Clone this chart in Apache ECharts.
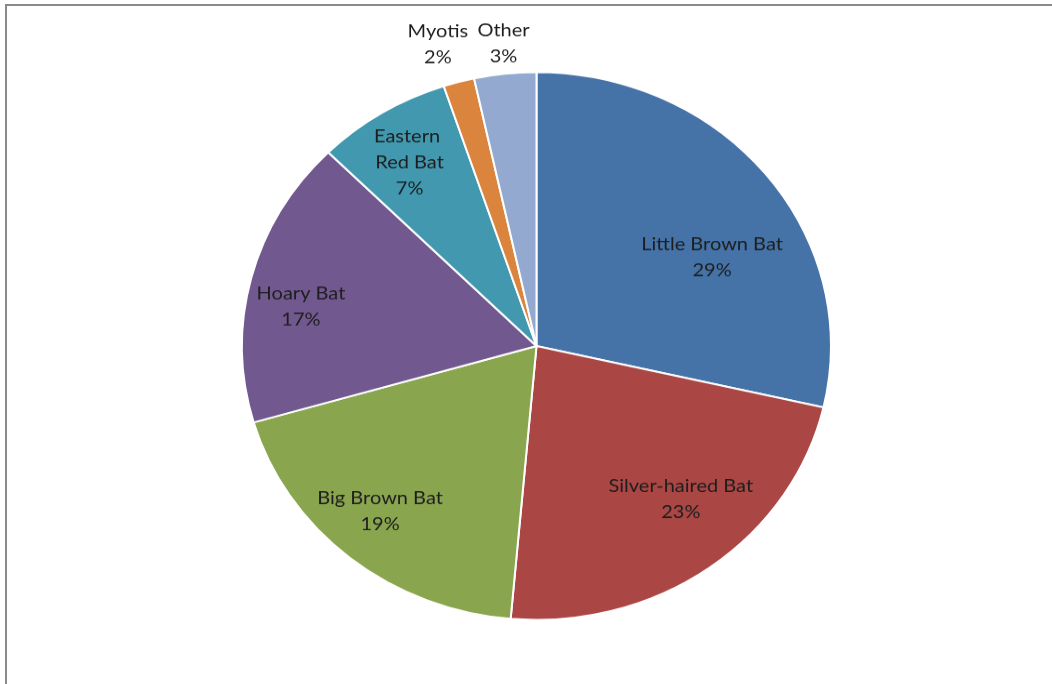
<!DOCTYPE html>
<html><head><meta charset="utf-8">
<script src="https://cdn.jsdelivr.net/npm/echarts@6/dist/echarts.min.js"></script>
<style>
html,body{margin:0;padding:0;background:#fff;width:1052px;height:684px;overflow:hidden;}
#frame{position:absolute;left:5px;top:4px;width:1047px;height:680px;border-top:2px solid #8a8a8a;border-left:2px solid #8a8a8a;box-sizing:border-box;}
#chart{position:absolute;left:0;top:-40px;width:1052px;height:764px;transform:scaleY(0.93);transform-origin:0 386px;}
</style></head>
<body>
<div id="frame"></div>
<div id="chart"></div>
<script>
// Data (share of bats, %)
const categories = ['Little Brown Bat','Silver-haired Bat','Big Brown Bat','Hoary Bat','Eastern Red Bat','Myotis','Other'];
const values = [28.6, 22.8, 19.1, 17.0, 7.4, 1.7, 3.4];
const labelTexts = ['29%','23%','19%','17%','7%','2%','3%'];

// Styles / layout (not data)
const palette = ['#4572A7','#AA4643','#89A54E','#71588F','#4198AF','#DB843D','#93A9CF'];
const labelShift = [[58,-2],[56,43],[-61,61],[-90,-5],[-48,-70],[-59,-180],[-17,-176]];
const labelWidth = [null,null,null,null,74,null,null];

const R = 294.5;
const center = [536.5, 386];

const chart = echarts.init(document.getElementById('chart'), null, {renderer:'canvas'});
chart.setOption({
  backgroundColor:'transparent',
  animation:false,
  series:[{
    type:'pie', center:center, radius:[0,R], startAngle:90, clockwise:true, animation:false,
    avoidLabelOverlap:false,
    labelLine:{show:false},
    itemStyle:{borderColor:'#ffffff', borderWidth:2},
    label:{show:true, position:'inside', fontFamily:'Lato, "Open Sans", sans-serif', fontSize:20, lineHeight:28, color:'#1e1e1e'},
    labelLayout: function (p) {
      const s = labelShift[p.dataIndex];
      return {dx: s[0], dy: s[1]};
    },
    data: categories.map((c,i)=>{
      const lab = {formatter:c+'\n'+labelTexts[i]};
      if (labelWidth[i]) { lab.width = labelWidth[i]; lab.overflow = 'break'; }
      return {name:c, value:values[i], itemStyle:{color:palette[i]}, label:lab};
    })
  }]
});
</script>
</body></html>
